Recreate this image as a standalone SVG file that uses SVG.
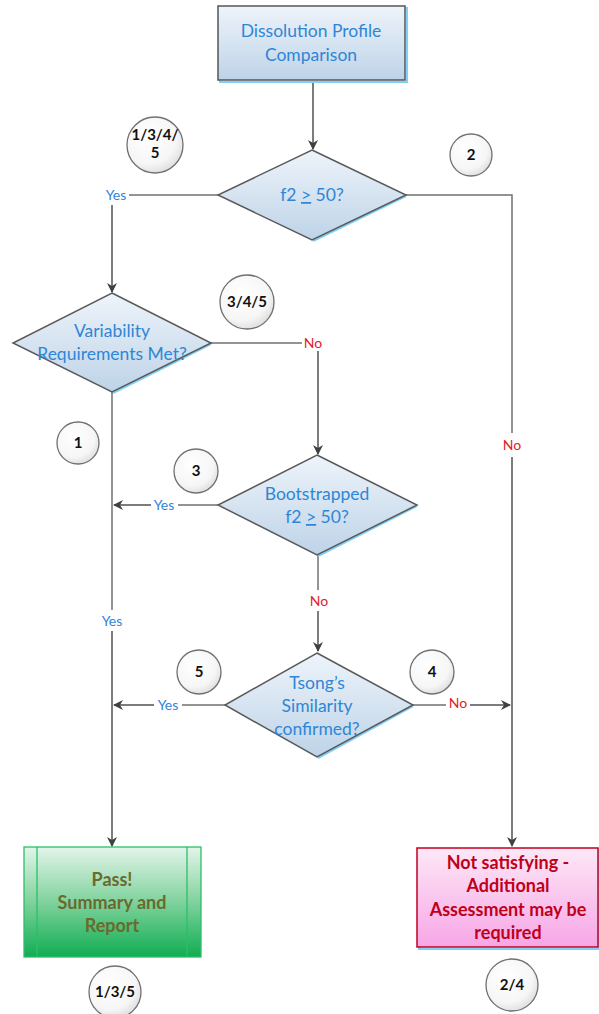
<svg xmlns="http://www.w3.org/2000/svg" width="599" height="1014" viewBox="0 0 599 1014">
<defs>
<linearGradient id="gBlue" x1="0" y1="0" x2="0" y2="1"><stop offset="0" stop-color="#eef4fa"/><stop offset="1" stop-color="#bed3e8"/></linearGradient>
<linearGradient id="gGreen" x1="0" y1="0" x2="0" y2="1"><stop offset="0" stop-color="#e4f5ea"/><stop offset="0.5" stop-color="#7fd29d"/><stop offset="1" stop-color="#10ad52"/></linearGradient>
<linearGradient id="gPink" x1="0" y1="0" x2="0" y2="1"><stop offset="0" stop-color="#fde8f6"/><stop offset="1" stop-color="#f7a6e6"/></linearGradient>
<radialGradient id="gCirc" cx="0.4" cy="0.35" r="0.7"><stop offset="0" stop-color="#ffffff"/><stop offset="0.7" stop-color="#f6f6f6"/><stop offset="1" stop-color="#dcdcdc"/></radialGradient>
<marker id="arr" viewBox="0 0 10 10" refX="9" refY="5" markerWidth="10" markerHeight="10" markerUnits="userSpaceOnUse" orient="auto"><path d="M0,0 L10,5 L0,10 L3,5 Z" fill="#404040"/></marker>
</defs>
<style>
.ln{fill:none;stroke:#707070;stroke-width:1.5}
.la{fill:none;stroke:#505050;stroke-width:1.5;marker-end:url(#arr)}
.dia{fill:url(#gBlue);stroke:#5a5a5a;stroke-width:1.5}
.sh{fill:none;stroke:#7fd0f5;stroke-width:2}
.bt{font-family:Lato,"Open Sans",sans-serif;font-size:17.5px;fill:#2e86d6;text-anchor:middle}
.yes{font-family:Lato,"Open Sans",sans-serif;font-size:14px;fill:#2e86d6;text-anchor:middle}
.no{font-family:Lato,"Open Sans",sans-serif;font-size:14px;fill:#e0202a;text-anchor:middle}
.circ{fill:url(#gCirc);stroke:#707070;stroke-width:1.3}
.ct{font-family:Lato,"Open Sans",sans-serif;font-size:15px;font-weight:bold;fill:#111;text-anchor:middle}
.pt{font-family:Lato,"Open Sans",sans-serif;font-size:18px;font-weight:bold;fill:#6a6a2c;text-anchor:middle}
.rt{font-family:Lato,"Open Sans",sans-serif;font-size:18px;font-weight:bold;fill:#c0001a;text-anchor:middle}
</style>
<rect width="599" height="1014" fill="#ffffff"/>
<g id="connectors">
<line class="la" x1="313" y1="81" x2="313" y2="149"/>
<polyline class="ln" points="218,195 129,195"/>
<polyline class="la" points="112,205 112,292"/>
<polyline class="ln" points="211,343 302,343"/>
<polyline class="la" points="318,351 318,454"/>
<polyline class="ln" points="112,392 112,610"/>
<polyline class="la" points="112,631 112,846"/>
<polyline class="ln" points="178,505 218,505"/>
<polyline class="la" points="151,505 114,505"/>
<polyline class="ln" points="318,555 318,590"/>
<polyline class="la" points="318,611 318,651"/>
<polyline class="ln" points="182,705 225,705"/>
<polyline class="la" points="154,705 114,705"/>
<polyline class="ln" points="413,705 446,705"/>
<polyline class="la" points="470,705 510,705"/>
<polyline class="ln" points="406,195 512,195 512,433"/>
<polyline class="la" points="512,457 512,846"/>
<text class="yes" x="116" y="200">Yes</text>
<text class="no" x="313" y="348">No</text>
<text class="yes" x="164" y="510">Yes</text>
<text class="yes" x="112" y="626">Yes</text>
<text class="no" x="319" y="606">No</text>
<text class="yes" x="168" y="710">Yes</text>
<text class="no" x="458" y="708">No</text>
<text class="no" x="512" y="450">No</text>
</g>
<g id="start">
<rect x="220" y="8" width="187" height="74" fill="none" stroke="#7fd0f5" stroke-width="2"/>
<rect x="218" y="6" width="187" height="74" fill="url(#gBlue)" stroke="#555" stroke-width="1.5"/>
<text class="bt" x="311" y="37">Dissolution Profile</text>
<text class="bt" x="311" y="61">Comparison</text>
</g>
<g id="d1">
<path class="sh" d="M406,196 L313,241"/>
<polygon class="dia" points="312,150 406,195 312,240 218,195"/>
<text class="bt" x="312" y="201">f2 <tspan text-decoration="underline">&gt;</tspan> 50?</text>
</g>
<g id="d2">
<path class="sh" d="M211,344 L113,393"/>
<polygon class="dia" points="112,293 211,343 112,392 13,343"/>
<text class="bt" x="112" y="337">Variability</text>
<text class="bt" x="112" y="360">Requirements Met?</text>
</g>
<g id="d3">
<path class="sh" d="M417,506 L318,556"/>
<polygon class="dia" points="317,455 417,505 317,555 218,505"/>
<text class="bt" x="317" y="500">Bootstrapped</text>
<text class="bt" x="317" y="523">f2 <tspan text-decoration="underline">&gt;</tspan> 50?</text>
</g>
<g id="d4">
<path class="sh" d="M413,706 L318,758"/>
<polygon class="dia" points="317,653 413,705 317,757 225,705"/>
<text class="bt" x="317" y="689">Tsong’s</text>
<text class="bt" x="317" y="712">Similarity</text>
<text class="bt" x="317" y="735">confirmed?</text>
</g>
<g id="pass">
<rect x="24" y="847" width="177" height="110" fill="url(#gGreen)" stroke="#2cbf6a" stroke-width="1.3"/>
<line x1="37" y1="847" x2="37" y2="957" stroke="#2cbf6a" stroke-width="1.3"/>
<line x1="187" y1="847" x2="187" y2="957" stroke="#2cbf6a" stroke-width="1.3"/>
<text class="pt" x="112" y="886">Pass!</text>
<text class="pt" x="112" y="909">Summary and</text>
<text class="pt" x="112" y="932">Report</text>
</g>
<g id="fail">
<rect x="419" y="850" width="180" height="99" fill="none" stroke="#7fd0f5" stroke-width="2"/>
<rect x="417" y="848" width="181" height="99" fill="url(#gPink)" stroke="#c00020" stroke-width="1.5"/>
<text class="rt" x="508" y="869">Not satisfying -</text>
<text class="rt" x="508" y="892">Additional</text>
<text class="rt" x="508" y="916">Assessment may be</text>
<text class="rt" x="508" y="939">required</text>
</g>
<g id="c1345"><circle class="circ" cx="155" cy="145" r="28"/><text class="ct" x="155" y="140">1/3/4/</text><text class="ct" x="155" y="158">5</text></g>
<g id="c2"><circle class="circ" cx="471" cy="155" r="21"/><text class="ct" x="471" y="160">2</text></g>
<g id="c345"><circle class="circ" cx="247" cy="302" r="27"/><text class="ct" x="247" y="307">3/4/5</text></g>
<g id="c1"><circle class="circ" cx="78" cy="443" r="21"/><text class="ct" x="78" y="448">1</text></g>
<g id="c3"><circle class="circ" cx="196" cy="471" r="22"/><text class="ct" x="196" y="476">3</text></g>
<g id="c5"><circle class="circ" cx="199" cy="672" r="22"/><text class="ct" x="199" y="677">5</text></g>
<g id="c4"><circle class="circ" cx="432" cy="672" r="22"/><text class="ct" x="432" y="677">4</text></g>
<g id="c135"><circle class="circ" cx="115" cy="992" r="26"/><text class="ct" x="115" y="997">1/3/5</text></g>
<g id="c24"><circle class="circ" cx="512" cy="985" r="26"/><text class="ct" x="512" y="990">2/4</text></g>
</svg>
